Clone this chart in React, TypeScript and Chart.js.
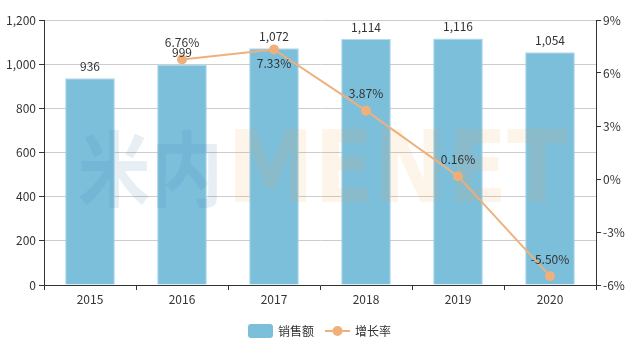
import React, { useEffect, useRef } from "react";
import { Chart, registerables } from "chart.js";

Chart.register(...registerables);

const years = ["2015", "2016", "2017", "2018", "2019", "2020"];
const sales = [936, 999, 1072, 1114, 1116, 1054];
const growth: (number | null)[] = [null, 6.76, 7.33, 3.87, 0.16, -5.5];
const growthLabelBelow = [false, false, true, false, false, false];
const leftTicks = [0, 200, 400, 600, 800, 1000, 1200];
const rightTicks = [-6, -3, 0, 3, 6, 9];
const seriesNames = ["销售额", "增长率"];

const FONT = "'Noto Sans CJK SC', 'Microsoft YaHei', sans-serif";
const BAR_COLOR = "#7cbfdb";
const LINE_COLOR = "#efb07c";
const TEXT_COLOR = "#333333";

const fmt = (v: number) => v.toLocaleString("en-US");

function fitText(ctx: any, text: string, x0: number, x1: number, baseline: number, size: number) {
  const m = ctx.measureText(text);
  const sx = (x1 - x0) / m.width;
  ctx.save();
  ctx.translate(x0, baseline);
  ctx.scale(sx, 1);
  ctx.fillText(text, 0, 0);
  ctx.restore();
}

const watermarkPlugin = {
  id: "watermark",
  afterDatasetsDraw(chart: any) {
    const { ctx } = chart;
    ctx.save();
    ctx.textBaseline = "alphabetic";
    ctx.textAlign = "left";
    ctx.globalAlpha = 0.12;
    ctx.fillStyle = "#3b7fab";
    ctx.font = `bold 82px ${FONT}`;
    fitText(ctx, "米内", 78, 223, 200, 82);
    ctx.globalAlpha = 0.12;
    ctx.fillStyle = "#f2a155";
    ctx.font = `bold 99px 'DejaVu Sans', sans-serif`;
    fitText(ctx, "MENET", 227, 567, 202, 99);
    ctx.restore();
  },
};

const labelPlugin = {
  id: "valueLabels",
  afterDatasetsDraw(chart: any) {
    const { ctx } = chart;
    ctx.save();
    ctx.font = `12px ${FONT}`;
    ctx.fillStyle = TEXT_COLOR;
    ctx.textAlign = "center";
    ctx.textBaseline = "middle";
    const barMeta = chart.getDatasetMeta(0);
    barMeta.data.forEach((el: any, i: number) => {
      ctx.fillText(fmt(sales[i]), el.x, el.y - 12);
    });
    const lineMeta = chart.getDatasetMeta(1);
    lineMeta.data.forEach((el: any, i: number) => {
      const v = growth[i];
      if (v === null || v === undefined) return;
      const dy = growthLabelBelow[i] ? 14 : -17;
      ctx.fillText(v.toFixed(2) + "%", el.x, el.y + dy);
    });
    ctx.restore();
  },
};

const legendPlugin = {
  id: "customLegend",
  afterDraw(chart: any) {
    const { ctx } = chart;
    const y = 331;
    ctx.save();
    ctx.font = `12px ${FONT}`;
    ctx.textBaseline = "middle";
    ctx.textAlign = "left";
    const bx = 248;
    ctx.fillStyle = BAR_COLOR;
    const w = 25, h = 14, r = 3;
    ctx.beginPath();
    ctx.moveTo(bx + r, y - h / 2);
    ctx.lineTo(bx + w - r, y - h / 2);
    ctx.quadraticCurveTo(bx + w, y - h / 2, bx + w, y - h / 2 + r);
    ctx.lineTo(bx + w, y + h / 2 - r);
    ctx.quadraticCurveTo(bx + w, y + h / 2, bx + w - r, y + h / 2);
    ctx.lineTo(bx + r, y + h / 2);
    ctx.quadraticCurveTo(bx, y + h / 2, bx, y + h / 2 - r);
    ctx.lineTo(bx, y - h / 2 + r);
    ctx.quadraticCurveTo(bx, y - h / 2, bx + r, y - h / 2);
    ctx.fill();
    ctx.fillStyle = TEXT_COLOR;
    ctx.fillText(seriesNames[0], bx + w + 5, y);
    const lx = 325;
    ctx.strokeStyle = LINE_COLOR;
    ctx.lineWidth = 2;
    ctx.beginPath();
    ctx.moveTo(lx, y);
    ctx.lineTo(lx + 25, y);
    ctx.stroke();
    ctx.fillStyle = LINE_COLOR;
    ctx.beginPath();
    ctx.arc(lx + 12.5, y, 5, 0, Math.PI * 2);
    ctx.fill();
    ctx.fillStyle = TEXT_COLOR;
    ctx.fillText(seriesNames[1], lx + 30, y);
    ctx.restore();
  },
};

export default function App() {
  const ref = useRef<HTMLCanvasElement | null>(null);
  useEffect(() => {
    document.body.style.margin = "0";
    const canvas = ref.current;
    if (!canvas) return;
    const chart = new Chart(canvas, {
      type: "bar",
      data: {
        labels: years,
        datasets: [
          {
            type: "bar",
            label: seriesNames[0],
            data: sales,
            backgroundColor: BAR_COLOR,
            borderColor: "#b3dbec",
            borderWidth: 1,
            barPercentage: 0.54,
            categoryPercentage: 1,
            yAxisID: "y",
            order: 2,
          },
          {
            type: "line",
            label: seriesNames[1],
            data: growth,
            borderColor: LINE_COLOR,
            backgroundColor: LINE_COLOR,
            borderWidth: 2,
            pointRadius: 5,
            pointBackgroundColor: LINE_COLOR,
            pointBorderWidth: 0,
            tension: 0,
            spanGaps: false,
            yAxisID: "y1",
            order: 1,
          } as any,
        ],
      },
      options: {
        animation: false,
        responsive: false,
        maintainAspectRatio: false,
        layout: { padding: { top: 20, bottom: 38, left: 0, right: 0 } },
        plugins: {
          legend: { display: false },
          tooltip: { enabled: false },
        },
        scales: {
          x: {
            offset: true,
            grid: {
              display: true,
              drawOnChartArea: false,
              drawTicks: true,
              tickLength: 5,
              offset: true,
              tickColor: "#333",
            },
            border: { display: true, color: "#333", width: 1 },
            ticks: {
              color: TEXT_COLOR,
              font: { family: FONT, size: 12 },
              padding: 2,
              maxRotation: 0,
            },
            afterFit(scale: any) {
              scale.height = 22;
            },
          },
          y: {
            position: "left",
            min: 0,
            max: 1200,
            afterBuildTicks(scale: any) {
              scale.ticks = leftTicks.map((v) => ({ value: v }));
            },
            grid: {
              color: "#cccccc",
              tickColor: "#333",
              tickLength: 5,
              drawTicks: true,
            },
            border: { display: true, color: "#333", width: 1 },
            ticks: {
              color: TEXT_COLOR,
              font: { family: FONT, size: 12 },
              padding: 3,
              callback: (v: any) => fmt(Number(v)),
            },
            afterFit(scale: any) {
              scale.width = 44;
            },
          },
          y1: {
            position: "right",
            min: -6,
            max: 9,
            afterBuildTicks(scale: any) {
              scale.ticks = rightTicks.map((v) => ({ value: v }));
            },
            grid: {
              drawOnChartArea: false,
              tickColor: "#333",
              tickLength: 5,
              drawTicks: true,
            },
            border: { display: true, color: "#333", width: 1 },
            ticks: {
              color: TEXT_COLOR,
              font: { family: FONT, size: 12 },
              padding: 2,
              callback: (v: any) => v + "%",
            },
            afterFit(scale: any) {
              scale.width = 37;
            },
          },
        },
      },
      plugins: [watermarkPlugin, labelPlugin, legendPlugin],
    });
    return () => chart.destroy();
  }, []);
  return (
    <div style={{ width: 633, height: 345, position: "relative" }}>
      <canvas ref={ref} width={633} height={345} style={{ display: "block" }} />
    </div>
  );
}
